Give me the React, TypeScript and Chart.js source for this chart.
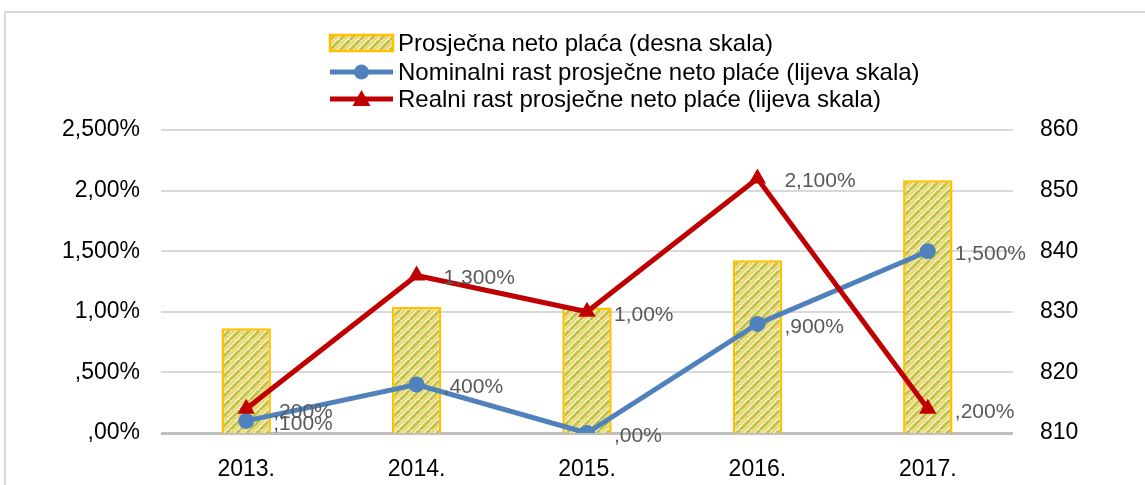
import React, { useEffect, useRef } from "react";
import { Chart, registerables } from "chart.js";

Chart.register(...registerables);

const years = ["2013.", "2014.", "2015.", "2016.", "2017."];
const wages = [827.3, 830.8, 830.7, 838.5, 851.7];
const nominal = [0.1, 0.4, 0.0, 0.9, 1.5];
const real = [0.2, 1.3, 1.0, 2.1, 0.2];
const nominalLabels = [",100%", ",400%", ",00%", ",900%", "1,500%"];
const realLabels = [",200%", "1,300%", "1,00%", "2,100%", ",200%"];
const leftTickLabels = [",00%", ",500%", "1,00%", "1,500%", "2,00%", "2,500%"];
const legendNames = [
  "Prosječna neto plaća (desna skala)",
  "Nominalni rast prosječne neto plaće (lijeva skala)",
  "Realni rast prosječne neto plaće (lijeva skala)",
];

const FONT = "'Liberation Sans', Arial, sans-serif";
const BLUE = "#4f81bd";
const RED = "#c00000";
const GOLD = "#ffc000";

function makePattern(): CanvasPattern | string {
  const c = document.createElement("canvas");
  c.width = 10;
  c.height = 10;
  const g = c.getContext("2d");
  if (!g) return "#e6e8b0";
  g.fillStyle = "#f1f1d8";
  g.fillRect(0, 0, 10, 10);
  const stripe = (off: number, color: string, w: number) => {
    g.strokeStyle = color;
    g.lineWidth = w;
    for (const d of [-10, 0, 10]) {
      g.beginPath();
      g.moveTo(0 + d + off, 10);
      g.lineTo(10 + d + off, 0);
      g.stroke();
    }
  };
  stripe(0, "#bec43e", 3);
  stripe(4.5, "#f3cf55", 1.8);
  return g.createPattern(c, "repeat") || "#e6e8b0";
}

export default function App() {
  const ref = useRef<HTMLCanvasElement | null>(null);

  useEffect(() => {
    document.body.style.margin = "0";
    const canvas = ref.current;
    if (!canvas) return;
    const pattern = makePattern();

    const framePlugin = {
      id: "frame",
      beforeDraw(chart: any) {
        const ctx = chart.ctx;
        ctx.save();
        ctx.fillStyle = "#ffffff";
        ctx.fillRect(0, 0, chart.width, chart.height);
        ctx.strokeStyle = "#d9d9d9";
        ctx.lineWidth = 2;
        ctx.strokeRect(5, 12, 2000, 1000);
        ctx.restore();
      },
    };

    const labelPlugin = {
      id: "pointLabels",
      afterDatasetsDraw(chart: any) {
        const ctx = chart.ctx;
        ctx.save();
        ctx.font = `21px ${FONT}`;
        ctx.fillStyle = "#595959";
        ctx.textAlign = "left";
        ctx.textBaseline = "middle";
        const sets: [number, string[]][] = [
          [1, nominalLabels],
          [2, realLabels],
        ];
        for (const [di, labels] of sets) {
          const meta = chart.getDatasetMeta(di);
          meta.data.forEach((pt: any, i: number) => {
            ctx.fillText(labels[i], pt.x + 27, pt.y + 3);
          });
        }
        ctx.restore();
      },
    };

    const legendPlugin = {
      id: "customLegend",
      afterDraw(chart: any) {
        const ctx = chart.ctx;
        ctx.save();
        const x0 = 330;
        const x1 = 393;
        const tx = 398;
        const rows = [43, 72, 99];
        ctx.fillStyle = pattern;
        ctx.fillRect(x0, 35, x1 - x0, 16);
        ctx.strokeStyle = GOLD;
        ctx.lineWidth = 2.5;
        ctx.strokeRect(x0, 35, x1 - x0, 16);
        ctx.strokeStyle = BLUE;
        ctx.lineWidth = 5;
        ctx.beginPath();
        ctx.moveTo(x0, rows[1]);
        ctx.lineTo(x1, rows[1]);
        ctx.stroke();
        ctx.fillStyle = BLUE;
        ctx.beginPath();
        ctx.arc((x0 + x1) / 2, rows[1], 7.5, 0, Math.PI * 2);
        ctx.fill();
        ctx.strokeStyle = RED;
        ctx.beginPath();
        ctx.moveTo(x0, rows[2]);
        ctx.lineTo(x1, rows[2]);
        ctx.stroke();
        ctx.fillStyle = RED;
        const cx = (x0 + x1) / 2;
        ctx.beginPath();
        ctx.moveTo(cx, rows[2] - 9);
        ctx.lineTo(cx + 9, rows[2] + 7);
        ctx.lineTo(cx - 9, rows[2] + 7);
        ctx.closePath();
        ctx.fill();
        ctx.fillStyle = "#000000";
        ctx.font = `24px ${FONT}`;
        ctx.textAlign = "left";
        ctx.textBaseline = "middle";
        legendNames.forEach((n, i) => ctx.fillText(n, tx, rows[i] + 1));
        ctx.restore();
      },
    };

    const chart = new Chart(canvas, {
      type: "bar",
      data: {
        labels: years,
        datasets: [
          {
            type: "bar",
            label: legendNames[0],
            data: wages,
            yAxisID: "y1",
            backgroundColor: pattern as any,
            borderColor: GOLD,
            borderWidth: 2.5,
            barPercentage: 0.29,
            categoryPercentage: 1,
            order: 3,
          },
          {
            type: "line",
            label: legendNames[1],
            data: nominal,
            yAxisID: "y",
            borderColor: BLUE,
            backgroundColor: BLUE,
            borderWidth: 5,
            pointStyle: "circle",
            pointRadius: 8,
            pointBorderWidth: 0,
            tension: 0,
            order: 2,
          },
          {
            type: "line",
            label: legendNames[2],
            data: real,
            yAxisID: "y",
            borderColor: RED,
            backgroundColor: RED,
            borderWidth: 5,
            pointStyle: "triangle",
            pointRadius: 10,
            pointBorderWidth: 0,
            tension: 0,
            order: 1,
          },
        ],
      },
      options: {
        responsive: false,
        animation: false,
        layout: { padding: { top: 130, left: 0, right: 0, bottom: 0 } },
        plugins: {
          legend: { display: false },
          tooltip: { enabled: false },
          title: { display: false },
        },
        scales: {
          x: {
            grid: { display: false },
            border: { display: false },
            ticks: {
              color: "#000000",
              font: { family: FONT, size: 23 },
              padding: 15,
            },
            afterFit(scale: any) {
              scale.height = 52;
            },
          },
          y: {
            position: "left",
            min: 0,
            max: 2.5,
            ticks: {
              stepSize: 0.5,
              color: "#000000",
              font: { family: FONT, size: 23 },
              padding: 21,
              callback: (v: any) => leftTickLabels[Math.round(Number(v) / 0.5)] ?? "",
            },
            grid: {
              drawTicks: false,
              color: (c: any) => (c.index === 0 ? "#bfbfbf" : "#d9d9d9"),
              lineWidth: (c: any) => (c.index === 0 ? 3 : 2),
            },
            border: { display: false },
            afterFit(scale: any) {
              scale.width = 161;
            },
          },
          y1: {
            position: "right",
            min: 810,
            max: 860,
            ticks: {
              stepSize: 10,
              color: "#000000",
              font: { family: FONT, size: 23 },
              padding: 27,
            },
            grid: { display: false, drawTicks: false },
            border: { display: false },
            afterFit(scale: any) {
              scale.width = 132;
            },
          },
        },
      },
      plugins: [framePlugin, labelPlugin, legendPlugin],
    });

    return () => chart.destroy();
  }, []);

  return (
    <div style={{ position: "absolute", left: 0, top: 0, width: 1145, height: 485 }}>
      <canvas ref={ref} width={1145} height={485} style={{ width: 1145, height: 485 }} />
    </div>
  );
}
